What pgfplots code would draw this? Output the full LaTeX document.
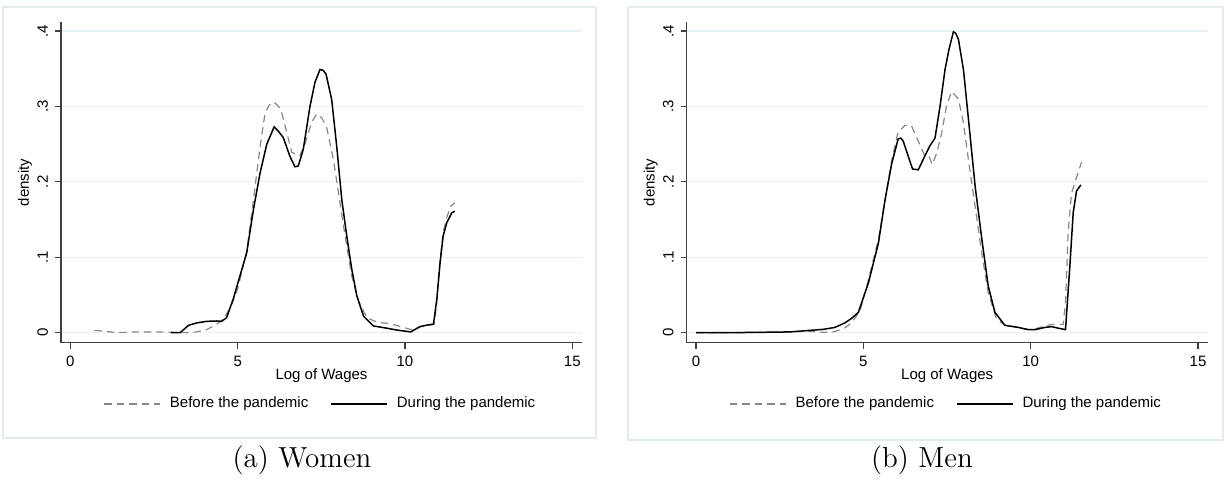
\documentclass[border=0pt]{standalone}
\usepackage{pgfplots}
\pgfplotsset{compat=1.18}
\usepackage{pgfplotstable}
\usepackage{fontspec}
\newfontfamily\chartfont{Liberation Sans}

\definecolor{gridc}{RGB}{232,240,242}
\definecolor{framec}{RGB}{226,236,238}
\definecolor{dashc}{RGB}{135,135,135}

% women, before the pandemic
\pgfplotstableread{
x y
0.72 0.003
1.0 0.002
1.39 0.000
2.0 0.001
2.5 0.001
3.0 0.0005
3.5 0.000
3.78 0.001
4.07 0.004
4.37 0.011
4.59 0.019
4.8 0.035
5.0 0.058
5.27 0.108
5.47 0.176
5.67 0.247
5.82 0.292
5.95 0.302
6.07 0.306
6.18 0.302
6.29 0.296
6.47 0.265
6.62 0.239
6.86 0.235
7.01 0.250
7.21 0.279
7.36 0.290
7.51 0.285
7.66 0.272
7.86 0.230
8.01 0.186
8.21 0.128
8.41 0.075
8.61 0.042
8.86 0.020
9.15 0.014
9.55 0.012
9.95 0.007
10.2 0.004
10.45 0.008
10.65 0.010
10.88 0.012
10.95 0.040
11.02 0.085
11.14 0.133
11.25 0.153
11.37 0.168
11.49 0.172
}\womenbefore

% women, during the pandemic
\pgfplotstableread{
x y
3.0 0.000
3.28 0.000
3.53 0.0097
3.78 0.013
4.07 0.015
4.37 0.0155
4.52 0.015
4.67 0.020
4.87 0.045
5.0 0.065
5.27 0.106
5.47 0.163
5.67 0.212
5.87 0.250
6.09 0.273
6.2 0.268
6.36 0.259
6.56 0.234
6.71 0.220
6.81 0.221
6.96 0.243
7.16 0.300
7.31 0.332
7.46 0.349
7.55 0.348
7.64 0.343
7.81 0.309
7.96 0.247
8.11 0.177
8.26 0.128
8.41 0.084
8.56 0.049
8.76 0.022
9.05 0.009
9.45 0.006
9.75 0.0035
10.17 0.001
10.45 0.008
10.65 0.010
10.85 0.011
10.95 0.044
11.05 0.093
11.14 0.128
11.25 0.146
11.40 0.159
11.49 0.161
}\womenduring

% men, before the pandemic
\pgfplotstableread{
x y
0.0 0.0
1.0 0.0
2.0 0.0005
2.81 0.001
3.3 0.002
3.80 0.0005
4.1 0.001
4.40 0.005
4.65 0.013
4.90 0.029
5.15 0.07
5.45 0.124
5.70 0.19
5.85 0.229
6.03 0.265
6.24 0.275
6.44 0.274
6.64 0.254
6.82 0.236
6.94 0.236
7.06 0.223
7.19 0.238
7.34 0.265
7.49 0.302
7.64 0.320
7.84 0.310
7.99 0.278
8.14 0.229
8.34 0.167
8.54 0.105
8.73 0.053
8.98 0.018
9.23 0.010
9.63 0.007
9.93 0.004
10.13 0.005
10.43 0.009
10.63 0.011
10.82 0.011
10.97 0.011
11.04 0.040
11.12 0.133
11.22 0.185
11.37 0.206
11.52 0.226
}\menbefore

% men, during the pandemic
\pgfplotstableread{
x y
0.0 0.0
1.0 0.0
2.0 0.0005
2.81 0.001
3.3 0.0027
3.80 0.0044
4.15 0.007
4.45 0.013
4.65 0.019
4.85 0.027
5.15 0.066
5.45 0.119
5.65 0.177
5.85 0.225
6.04 0.257
6.12 0.258
6.19 0.254
6.34 0.234
6.47 0.217
6.64 0.216
6.79 0.230
6.99 0.248
7.14 0.258
7.29 0.300
7.44 0.349
7.56 0.376
7.69 0.399
7.76 0.397
7.84 0.389
7.99 0.349
8.14 0.283
8.34 0.194
8.54 0.124
8.73 0.062
8.93 0.027
9.23 0.0097
9.63 0.007
9.93 0.004
10.13 0.004
10.43 0.007
10.63 0.008
10.82 0.006
11.04 0.004
11.17 0.088
11.27 0.159
11.37 0.188
11.50 0.196
}\menduring

\pgfplotsset{
  panel/.style={
    scale only axis, width=260.5pt, height=160.35pt,
    xmin=-0.28, xmax=15.29, ymin=-0.0133, ymax=0.412,
    axis x line=bottom, axis y line=left,
    axis line style={-, black!75, line width=0.6pt},
    tick style={black!75, line width=0.6pt},
    tick align=outside, major tick length=3pt,
    xtick={0,5,10,15}, xticklabels={0,5,10,15},
    ytick={0,0.1,0.2,0.3,0.4}, yticklabels={0,.1,.2,.3,.4},
    yticklabel style={rotate=90, anchor=south},
    ymajorgrids, grid style={gridc, line width=0.6pt},
    font=\chartfont\fontsize{7.5}{9}\selectfont,
    tick label style={font=\chartfont\fontsize{7.5}{9}\selectfont},
    xlabel={Log of Wages}, ylabel={density},
    xlabel style={at={(axis description cs:0.5,-0.104)}, anchor=center},
    ylabel style={at={(axis description cs:-0.069,0.5)}, anchor=center},
    legend columns=2,
    legend style={draw=none, fill=none, at={(0.5,-0.191)}, anchor=center,
      font=\chartfont\fontsize{7.5}{9}\selectfont,
      /tikz/every odd column/.append style={column sep=2.5pt},
      /tikz/every even column/.append style={column sep=9pt}},
    legend image code/.code={\draw[#1] (0pt,0pt) -- (28pt,0pt);},
  },
  before/.style={dashc, line width=0.6pt, dash pattern=on 3.7pt off 2.5pt},
  during/.style={black, line width=0.75pt},
}

\begin{document}
\begin{tikzpicture}
\useasboundingbox (0,0) rectangle (612.5pt,243.5pt);
\draw[framec, line width=0.6pt] (1.5pt,24.5pt) rectangle (298pt,240pt);
\draw[framec, line width=0.6pt] (314pt,23.5pt) rectangle (611.5pt,240pt);

\begin{axis}[panel, at={(30.5pt,72.15pt)}, anchor=south west]
\addplot[before] table[x=x, y=y] {\womenbefore};
\addlegendentry{Before the pandemic}
\addplot[during] table[x=x, y=y] {\womenduring};
\addlegendentry{During the pandemic}
\end{axis}

\begin{axis}[panel, at={(343.35pt,72.15pt)}, anchor=south west]
\addplot[before] table[x=x, y=y] {\menbefore};
\addlegendentry{Before the pandemic}
\addplot[during] table[x=x, y=y] {\menduring};
\addlegendentry{During the pandemic}
\end{axis}

\node[font=\fontsize{14.5}{16}\selectfont] at (151pt,13.5pt) {(a) Women};
\node[font=\fontsize{14.5}{16}\selectfont] at (461pt,13.5pt) {(b) Men};
\end{tikzpicture}
\end{document}
